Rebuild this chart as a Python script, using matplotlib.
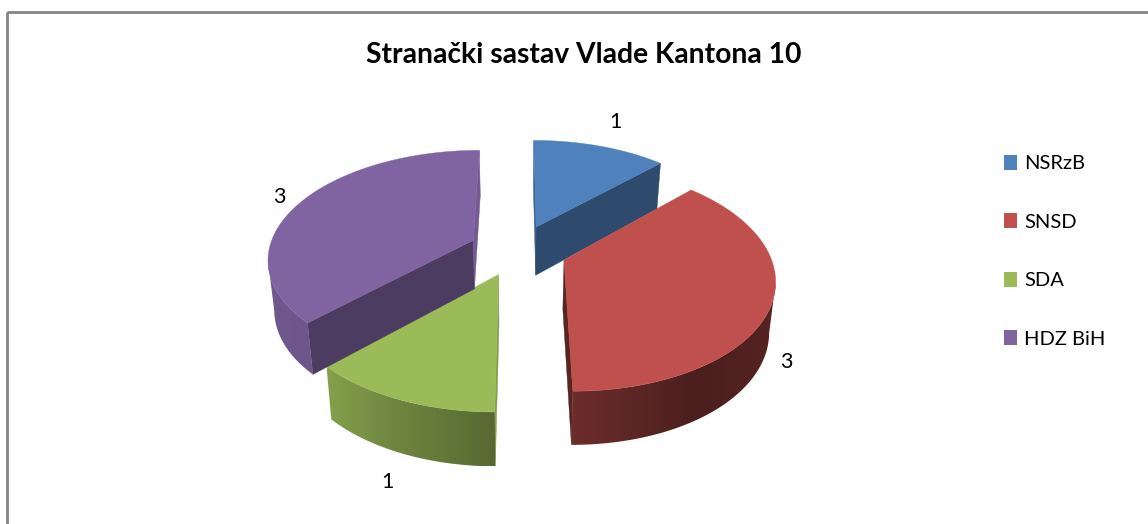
import numpy as np
import matplotlib
matplotlib.use("Agg")
import matplotlib.pyplot as plt
from matplotlib.patches import Polygon, Patch, Rectangle

# data
parties = ["NSRzB", "SNSD", "SDA", "HDZ BiH"]
seats = [1, 3, 1, 3]

# styles
top_colors = ["#4f81bd", "#c0504d", "#9bbb59", "#8064a2"]
label_pos = [(615, 122), (786, 362), (387, 482), (279, 197)]
# shade of the radial cut walls of each slice (start edge, end edge)
cut_shade = [(.75, .58), (.5, .45), (.85, .5), (.6, .9)]

W, H = 1148, 524
CX, CY = 518, 250          # pie centre on the canvas
RX, RY = 204.5, 107        # radii of the projected disc
K = 0.158                  # perspective strength
EXPLODE = 0.24
DEPTH = 49
LOW = 0.975                # lower plane narrows slightly


def project(u, v, lower=False):
    u, v = np.atleast_1d(u).astype(float), np.atleast_1d(v).astype(float)
    w = 1 + K * v
    a = RX * (LOW if lower else 1)
    x = CX + a * u / w
    y = CY - RY * v / w + (DEPTH / (1 + 0.08 * v) if lower else 0)
    return np.column_stack([x, y])


def rim_shade(deg):
    return np.interp(np.asarray(deg) % 360, [0, 45, 150, 180, 225, 270, 300, 360],
                     [.55, .55, .39, .56, .86, .90, .84, .60])


def shade(col, f):
    return np.clip(np.array(matplotlib.colors.to_rgb(col)) * f, 0, 1)


fig = plt.figure(figsize=(W / 100, H / 100), dpi=100)
ax = fig.add_axes([0, 0, 1, 1])
ax.set_xlim(0, W)
ax.set_ylim(H, 0)
ax.axis("off")

ax.add_patch(Rectangle((6.7, 11.5), W + 40, H + 40, fill=False, ec="#868686", lw=2.0, zorder=1))

total = sum(seats)
start = 0.0
slices = []
for val, col in zip(seats, top_colors):
    sweep = 360.0 * val / total
    end = start + sweep
    mid = np.radians(start + sweep / 2)
    ox, oy = EXPLODE * np.sin(mid), EXPLODE * np.cos(mid)
    th = np.linspace(start, end, int(sweep) + 2)
    u = ox + np.sin(np.radians(th))
    v = oy + np.cos(np.radians(th))
    slices.append((col, th, u, v, ox, oy))
    start = end

# painter order: back slices first
for idx in [0, 3, 1, 2]:
    col, th, u, v, ox, oy = slices[idx]
    z = 2 + idx
    arc_t, arc_l = project(u, v), project(u, v, lower=True)
    apex_t, apex_l = project(ox, oy)[0], project(ox, oy, lower=True)[0]

    # radial walls that face the viewer
    walls = [(apex_t, arc_t[0], apex_l, arc_l[0], cut_shade[idx][0]),
             (arc_t[-1], apex_t, arc_l[-1], apex_l, cut_shade[idx][1])]
    for a, b, la, lb, f in walls:
        if b[0] - a[0] < 0:
            c = shade(col, f)
            ax.add_patch(Polygon([a, b, lb, la], closed=True, fc=c, ec=c, lw=0.3, zorder=z))

    # visible part of the rim, with a shade that runs along it
    vis = np.diff(arc_t[:, 0]) < 0
    if vis.any():
        keep = np.where(vis)[0]
        i0, i1 = keep[0], keep[-1] + 1
        top_part, low_part = arc_t[i0:i1 + 1], arc_l[i0:i1 + 1]
        poly = np.vstack([top_part, low_part[::-1]])
        xs = np.linspace(poly[:, 0].min(), poly[:, 0].max(), 300)
        order = np.argsort(top_part[:, 0])
        th_x = np.interp(xs, top_part[order, 0], th[i0:i1 + 1][order])
        img = np.array([[shade(col, f) for f in rim_shade(th_x)]])
        im = ax.imshow(img, extent=(xs[0], xs[-1], poly[:, 1].max(), poly[:, 1].min()),
                       aspect="auto", interpolation="bilinear", zorder=z)
        im.set_clip_path(Polygon(poly, closed=True, transform=ax.transData))

    ax.add_patch(Polygon(np.vstack([apex_t, arc_t]), closed=True, fc=col, ec=col, lw=0.3, zorder=z + 0.5))

ax.set_xlim(0, W)
ax.set_ylim(H, 0)

for val, (x, y) in zip(seats, label_pos):
    ax.text(x, y, str(val), ha="center", va="center", fontsize=15.5, family="Lato", color="black", zorder=10)

ax.text(584, 55, "Stranački sastav Vlade Kantona 10", ha="center", va="center",
        fontsize=20.3, fontweight="bold", family="Lato", color="black", zorder=10)

handles = [Patch(fc=c, ec="none") for c in top_colors]
ax.legend(handles, parties, loc="upper left", bbox_to_anchor=(1004 / W, 1 - 155 / H), frameon=False,
          prop={"family": "Lato", "size": 14.5}, labelspacing=2.04, handlelength=0.65, handleheight=0.75,
          handletextpad=0.35, borderpad=0, borderaxespad=0)

fig.savefig("out.png", dpi=100, facecolor="white")
